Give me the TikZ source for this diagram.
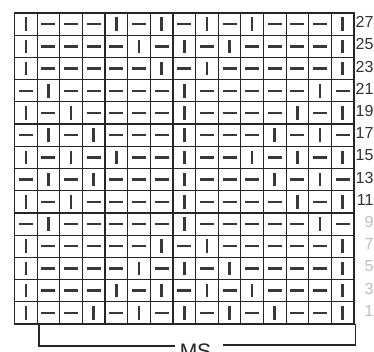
\documentclass[tikz,border=0pt]{standalone}
\usepackage{fontspec}
\setmainfont{Liberation Sans}
\begin{document}
\begin{tikzpicture}[x=1pt,y=-1pt,
  gridline/.style={draw=black!85, line width=1.2pt},
  purl/.style={draw=black!78, line width=2.4pt},
  knit/.style={draw=black!78, line width=2.6pt},
  rowlabel/.style={font=\fontsize{16}{16}\selectfont, text=black!80, anchor=east, inner sep=0pt},
  faintlabel/.style={rowlabel, text=black!25},
  bracket/.style={draw=black!85, line width=1.2pt}]
\useasboundingbox (0,0) rectangle (374,352);
\fill[white] (0,0) rectangle (374,352);
\def\xo{14.5}\def\yo{13}\def\cw{22.633}\def\rh{22.214}
\node[draw=black!85, line width=1.5pt, minimum width=339.5pt, minimum height=311pt,
      inner sep=0pt, outer sep=0pt, anchor=north west] (grid) at (\xo,\yo) {};
\foreach \k in {1,...,14}
  \draw[gridline] ({\xo+\k*\cw},\yo) -- ({\xo+\k*\cw},{\yo+311});
\foreach \r in {1,...,13}
  \draw[gridline] (\xo,{\yo+\r*\rh}) -- ({\xo+339.5},{\yo+\r*\rh});
\foreach \row [count=\r] in {
  {1,0,0,0,1,0,1,0,1,0,1,0,0,0,1},
  {1,0,0,0,0,1,0,1,0,1,0,0,0,0,1},
  {1,0,0,0,0,0,1,0,1,0,0,0,0,0,1},
  {0,1,0,0,0,0,0,1,0,0,0,0,0,1,0},
  {1,0,1,0,0,0,0,1,0,0,0,0,1,0,1},
  {0,1,0,1,0,0,0,1,0,0,0,1,0,1,0},
  {1,0,1,0,1,0,0,1,0,0,1,0,1,0,1},
  {0,1,0,1,0,0,0,1,0,0,0,1,0,1,0},
  {1,0,1,0,0,0,0,1,0,0,0,0,1,0,1},
  {0,1,0,0,0,0,0,1,0,0,0,0,0,1,0},
  {1,0,0,0,0,0,1,0,1,0,0,0,0,0,1},
  {1,0,0,0,0,1,0,1,0,1,0,0,0,0,1},
  {1,0,0,0,1,0,1,0,1,0,1,0,0,0,1},
  {1,0,0,1,0,1,0,1,0,1,0,1,0,0,1}} {
  \foreach \c [count=\k] in \row {
    \pgfmathsetmacro\cx{\xo+(\k-0.5)*\cw}
    \pgfmathsetmacro\cy{\yo+(\r-0.5)*\rh}
    \ifnum\c=1
      \draw[knit] ({\cx},{\cy-6.8}) -- ({\cx},{\cy+6.8});
    \else
      \draw[purl] ({\cx-7},{\cy}) -- ({\cx+7},{\cy});
    \fi
  }
}
\foreach \lab [count=\r] in {27,25,23,21,19,17,15,13,11}
  \node[rowlabel] (lab\lab) at (373.6,{\yo+(\r-0.5)*\rh-2}) {\lab};
\foreach \lab [count=\r from 10] in {9,7,5,3,1}
  \node[faintlabel] (lab\lab) at (373.6,{\yo+(\r-0.5)*\rh-2}) {\lab};
\node[font=\fontsize{21}{21}\selectfont, text=black!85, inner sep=0pt, anchor=base] (ms) at (195.5,358) {MS};
\coordinate (bl) at (39,346);
\coordinate (br) at (355.5,345);
\draw[bracket] (39,{\yo+311}) -- (bl) -- ([xshift=-5pt]bl -| ms.west);
\draw[bracket] ([xshift=12pt]br -| ms.east) -- (br) -- (355.5,{\yo+311});
\end{tikzpicture}
\end{document}
